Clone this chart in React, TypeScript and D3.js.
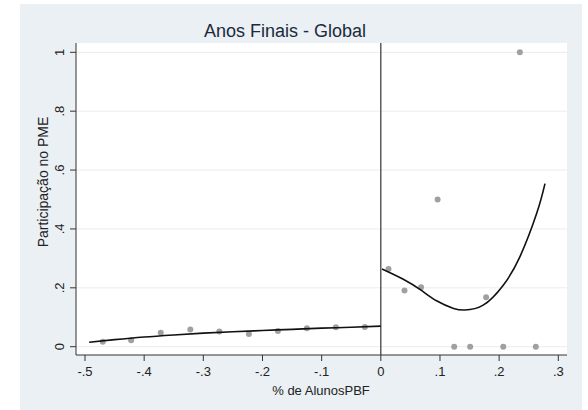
import * as d3 from "d3";

// scatter bins (left / right of cutoff)
const leftX = [-0.47, -0.422, -0.372, -0.322, -0.273, -0.223, -0.174, -0.125, -0.076, -0.027];
const leftY = [0.017, 0.022, 0.047, 0.058, 0.052, 0.043, 0.053, 0.063, 0.066, 0.067];
const rightX = [0.013, 0.04, 0.068, 0.096, 0.124, 0.151, 0.178, 0.207, 0.235, 0.262];
const rightY = [0.264, 0.191, 0.202, 0.5, 0, 0, 0.168, 0, 1.0, 0];

// fitted curves
const fitLeftX = [-0.493, -0.45, -0.4, -0.35, -0.3, -0.25, -0.2, -0.15, -0.1, -0.05, 0];
const fitLeftY = [0.015, 0.024, 0.033, 0.04, 0.046, 0.051, 0.055, 0.059, 0.063, 0.066, 0.07];
const fitRightX = [0.002, 0.038, 0.068, 0.095, 0.123, 0.142, 0.173, 0.207, 0.235, 0.2635, 0.2775];
const fitRightY = [0.264, 0.229, 0.192, 0.155, 0.13, 0.1245, 0.141, 0.209, 0.305, 0.453, 0.554];

const xTicks = [-0.5, -0.4, -0.3, -0.2, -0.1, 0, 0.1, 0.2, 0.3];
const yTicks = [0, 0.2, 0.4, 0.6, 0.8, 1];

const fmt = (v: number) => {
  if (v === 0) return "0";
  if (v === 1) return "1";
  return d3.format(".1f")(v).replace("0.", ".");
};

export default function App() {
  const W = 588, H = 410;
  const x = d3.scaleLinear().domain([-0.5, 0.3]).range([85, 558.3]);
  const y = d3.scaleLinear().domain([0, 1]).range([346.7, 52.3]);
  const plot = { l: 76, r: 567, t: 43, b: 355 };
  const font = "'Liberation Sans', Arial, sans-serif";

  const lineL = d3.line<[number, number]>()
    .x(d => x(d[0]))
    .y(d => y(d[1]))
    .curve(d3.curveMonotoneX);
  const lineR = d3.line<[number, number]>()
    .x(d => x(d[0]))
    .y(d => y(d[1]))
    .curve(d3.curveNatural);

  const leftFit = fitLeftX.map((v, i) => [v, fitLeftY[i]] as [number, number]);
  const rightFit = fitRightX.map((v, i) => [v, fitRightY[i]] as [number, number]);

  return (
    <svg width={W} height={H} style={{ position: "absolute", left: 0, top: 0 }}>
      <rect x={0} y={0} width={W} height={H} fill="#ffffff" />
      <rect x={20} y={4} width={562} height={406} fill="#eaf0f3" />
      <rect x={plot.l} y={plot.t} width={plot.r - plot.l} height={plot.b - plot.t} fill="#ffffff" />
      <text x={285} y={37} textAnchor="middle" fontFamily={font} fontSize={18} fill="#1c2a3c">
        Anos Finais - Global
      </text>
      {/* grid */}
      {yTicks.map(t => (
        <line key={"g" + t} x1={plot.l} x2={plot.r} y1={y(t)} y2={y(t)} stroke="#ececec" strokeWidth={1} />
      ))}
      {/* axes */}
      <line x1={plot.l} x2={plot.l} y1={plot.t} y2={plot.b} stroke="#333" strokeWidth={1} />
      <line x1={plot.l} x2={plot.r} y1={plot.b} y2={plot.b} stroke="#333" strokeWidth={1} />
      {yTicks.map(t => (
        <g key={"y" + t}>
          <line x1={plot.l - 6} x2={plot.l} y1={y(t)} y2={y(t)} stroke="#333" />
          <text transform={`translate(64,${y(t)}) rotate(-90)`} textAnchor="middle"
            fontFamily={font} fontSize={13} fill="#222">{fmt(t)}</text>
        </g>
      ))}
      {xTicks.map(t => (
        <g key={"x" + t}>
          <line x1={x(t)} x2={x(t)} y1={plot.b} y2={plot.b + 6} stroke="#333" />
          <text x={x(t)} y={376} textAnchor="middle" fontFamily={font} fontSize={13} fill="#222">
            {t < 0 ? "-" + fmt(-t) : fmt(t)}
          </text>
        </g>
      ))}
      <text transform={`translate(48,182) rotate(-90)`} textAnchor="middle" fontFamily={font}
        fontSize={14} fill="#222">Participação no PME</text>
      <text x={321} y={395} textAnchor="middle" fontFamily={font} fontSize={13} fill="#222">
        % de AlunosPBF
      </text>
      {/* cutoff */}
      <line x1={x(0)} x2={x(0)} y1={plot.t} y2={plot.b} stroke="#333" strokeWidth={1.2} />
      {/* points */}
      {leftX.map((v, i) => (
        <circle key={"l" + i} cx={x(v)} cy={y(leftY[i])} r={3} fill="#a0a0a0" />
      ))}
      {rightX.map((v, i) => (
        <circle key={"r" + i} cx={x(v)} cy={y(rightY[i])} r={3} fill="#a0a0a0" />
      ))}
      <path d={lineL(leftFit) ?? ""} fill="none" stroke="#111" strokeWidth={1.6} />
      <path d={lineR(rightFit) ?? ""} fill="none" stroke="#111" strokeWidth={1.6} />
    </svg>
  );
}
